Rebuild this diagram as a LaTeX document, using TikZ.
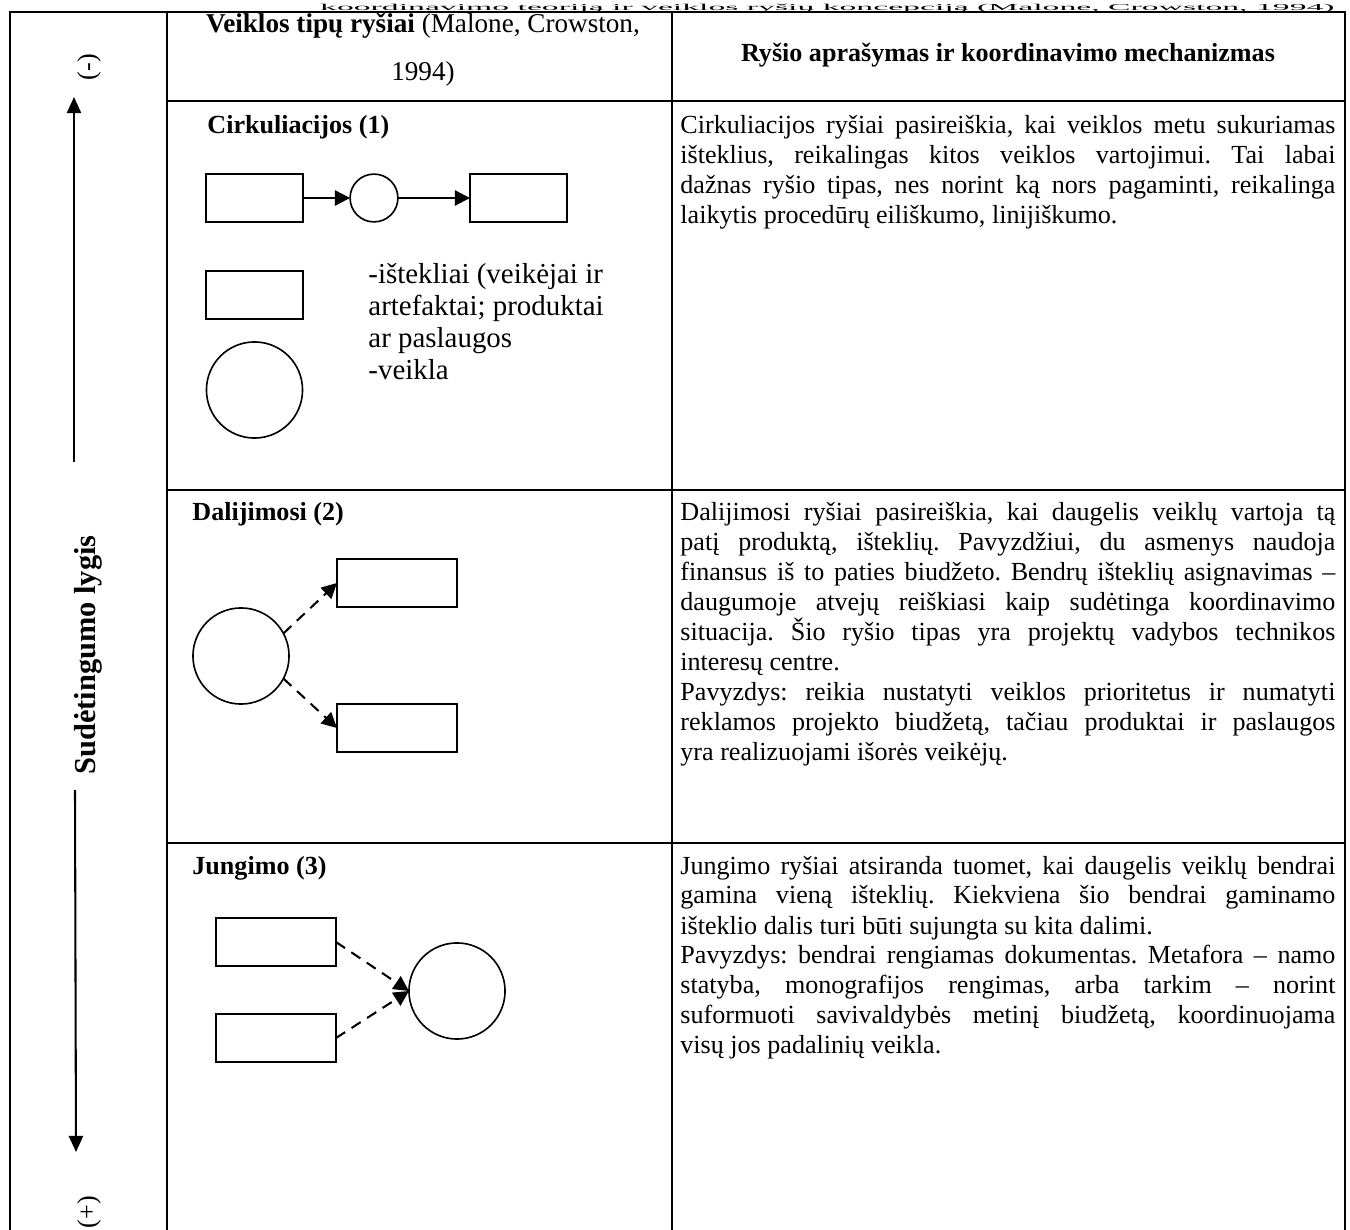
\documentclass[tikz,border=0pt]{standalone}
\usepackage{fontspec}
\setmainfont{Liberation Serif}
\usetikzlibrary{arrows.meta}
\frenchspacing

\begin{document}
\begin{tikzpicture}[x=0.46pt,y=-0.46pt,
  rule/.style={line width=0.95pt},
  resbox/.style={draw, line width=0.75pt, inner sep=0pt, outer sep=0pt, minimum height=22pt},
  small/.style={resbox, minimum width=44.6pt},
  wide/.style={resbox, minimum width=55.2pt},
  actcirc/.style={draw, circle, line width=0.75pt, inner sep=0pt, outer sep=0pt},
  flow/.style={line width=0.95pt, -{Triangle[length=7pt,width=7pt]}},
  shared/.style={line width=0.95pt, dash pattern=on 5pt off 3.5pt, -{Triangle[length=7pt,width=7pt]}},
  axisarrow/.style={line width=0.95pt, -{Triangle[length=7.4pt,width=6.5pt]}},
  body/.style={inner sep=0pt, anchor=base west},
]
\path[use as bounding box] (0,0) rectangle (1350,1230);

% caption line squeezed into the thin strip above the table
\node[inner sep=0pt, anchor=base east, font=\fontsize{15.5}{17}\selectfont] (caption) at (1335,10.5)
  {\scalebox{1}[0.27]{koordinavimo teoriją ir veiklos ryšių koncepciją (Malone, Crowston, 1994)}};

% table frame and rules
\draw[rule] (10,1230) -- (10,12) -- (1345,12) -- (1345,1230);
\draw[rule] (167,12) -- (167,1230);
\draw[rule] (672,12) -- (672,1230);
\draw[rule] (167,101) -- (1345,101);
\draw[rule] (167,490) -- (1345,490);
\draw[rule] (167,843) -- (1345,843);

% header cells
\node[inner sep=0pt, anchor=base, font=\fontsize{12.5}{14}\selectfont] (h1a) at (423,33)
  {\textbf{Veiklos tipų ryšiai} (Malone, Crowston,};
\node[inner sep=0pt, anchor=base, font=\fontsize{12.5}{14}\selectfont] (h1b) at (423,81) {1994)};
\node[inner sep=0pt, anchor=base, font=\fontsize{12}{14}\selectfont\bfseries] (h2) at (1008,62)
  {Ryšio aprašymas ir koordinavimo mechanizmas};

% complexity axis
\node[rotate=90, inner sep=0pt, font=\fontsize{14}{16}\selectfont\bfseries] (axis) at (88,655) {Sudėtingumo lygis};
\node[rotate=90, inner sep=0pt, font=\fontsize{12}{14}\selectfont] (minus) at (89,67) {(-)};
\node[rotate=90, inner sep=0pt, font=\fontsize{12}{14}\selectfont] (plus) at (89,1212) {(+)};
\coordinate (upstart) at (74,462);
\coordinate (uptip) at (74,97);
\coordinate (downstart) at (75,790);
\coordinate (downtip) at (76,1152);
\draw[axisarrow] (upstart) -- (uptip);
\draw[axisarrow] (downstart) -- (downtip);

% row labels
\node[body, font=\fontsize{12}{14}\selectfont\bfseries] (l1) at (207,134) {Cirkuliacijos (1)};
\node[body, font=\fontsize{12}{14}\selectfont\bfseries] (l2) at (192,521) {Dalijimosi (2)};
\node[body, font=\fontsize{12}{14}\selectfont\bfseries] (l3) at (192,874) {Jungimo (3)};

% row 1: flow
\node[small] (r1a) at (254.5,198) {};
\node[actcirc, minimum size=22pt] (c1) at (374,198) {};
\node[small] (r1b) at (518.5,198) {};
\draw[flow] (r1a.east) -- (c1.west);
\draw[flow] (c1.east) -- (r1b.west);

% row 1: legend
\node[small] (lgr) at (254.5,295) {};
\node[actcirc, minimum size=44.2pt] (lgc) at (254.5,390) {};
\node[body] (lgt) at (368,284) {\parbox[t]{130pt}{\fontsize{13.3}{14.7}\selectfont\raggedright
  -ištekliai (veikėjai ir\\ artefaktai; produktai\\ ar paslaugos\\ -veikla}};

% row 2: sharing
\node[actcirc, minimum size=44.2pt] (c2) at (241,656) {};
\node[wide] (r2a) at (397,583) {};
\node[wide] (r2b) at (397,728) {};
\draw[shared] (c2.28) -- (r2a.west);
\draw[shared] (c2.-28) -- (r2b.west);

% row 3: fit
\node[wide] (r3a) at (276,942) {};
\node[wide] (r3b) at (276,1038) {};
\node[actcirc, minimum size=44.2pt] (c3) at (457,991) {};
\draw[shared] (r3a.east) -- (c3.west);
\draw[shared] (r3b.east) -- (c3.west);

% descriptions
\node[body] (d1) at (680,134) {\parbox[t]{301.3pt}{\fontsize{12}{13.8}\selectfont
Cirkuliacijos ryšiai pasireiškia, kai veiklos metu sukuriamas\linebreak
išteklius, reikalingas kitos veiklos vartojimui. Tai labai\linebreak
dažnas ryšio tipas, nes norint ką nors pagaminti, reikalinga\linebreak
laikytis procedūrų eiliškumo, linijiškumo.}};

\node[body] (d2) at (680,521) {\parbox[t]{301.3pt}{\fontsize{12}{13.8}\selectfont
Dalijimosi ryšiai pasireiškia, kai daugelis veiklų vartoja tą\linebreak
patį produktą, išteklių. Pavyzdžiui, du asmenys naudoja\linebreak
finansus iš to paties biudžeto. Bendrų išteklių asignavimas –\linebreak
daugumoje atvejų reiškiasi kaip sudėtinga koordinavimo\linebreak
situacija. Šio ryšio tipas yra projektų vadybos technikos\linebreak
interesų centre.\par
Pavyzdys: reikia nustatyti veiklos prioritetus ir numatyti\linebreak
reklamos projekto biudžetą, tačiau produktai ir paslaugos\linebreak
yra realizuojami išorės veikėjų.}};

\node[body] (d3) at (680,874) {\parbox[t]{301.3pt}{\fontsize{12}{13.8}\selectfont
Jungimo ryšiai atsiranda tuomet, kai daugelis veiklų bendrai\linebreak
gamina vieną išteklių. Kiekviena šio bendrai gaminamo\linebreak
išteklio dalis turi būti sujungta su kita dalimi.\par
Pavyzdys: bendrai rengiamas dokumentas. Metafora – namo\linebreak
statyba, monografijos rengimas, arba tarkim – norint\linebreak
suformuoti savivaldybės metinį biudžetą, koordinuojama\linebreak
visų jos padalinių veikla.}};
\end{tikzpicture}
\end{document}
